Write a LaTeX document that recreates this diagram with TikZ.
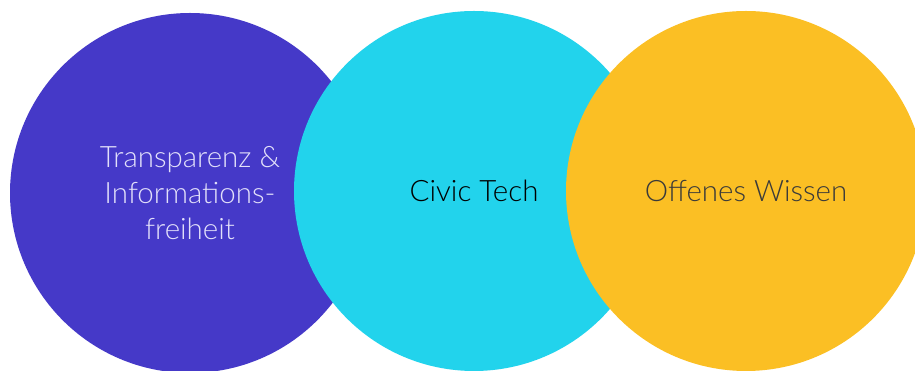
\documentclass[tikz,border=0pt]{standalone}
\usepackage{fontspec}
\setmainfont{Lato Light}
\definecolor{indigo}{HTML}{4539C8}
\definecolor{lavender}{HTML}{E2E0FA}
\definecolor{cyanblob}{HTML}{22D3EC}
\definecolor{amberblob}{HTML}{FBBF24}
\definecolor{darkgrey}{HTML}{3A3A3A}
\begin{document}
\begin{tikzpicture}[x=1pt,y=1pt,
    blob/.style={circle, minimum size=360pt, inner sep=0pt, align=center,
                 font=\fontsize{29.5}{36}\selectfont}]
  \useasboundingbox (0,0) rectangle (915,371);
  \clip (0,0) rectangle (915,371);

  % circles, left to right, each over the one before
  \node[blob, fill=indigo, text=lavender] (transparenz) at (190,178)
       {Transparenz \&\\Informations-\\freiheit};
  \node[blob, fill=cyanblob, text=black] (civic) at (474,180) {Civic Tech};
  \node[blob, fill=amberblob, text=darkgrey] (wissen) at (746,180) {Offenes Wissen};
\end{tikzpicture}
\end{document}
